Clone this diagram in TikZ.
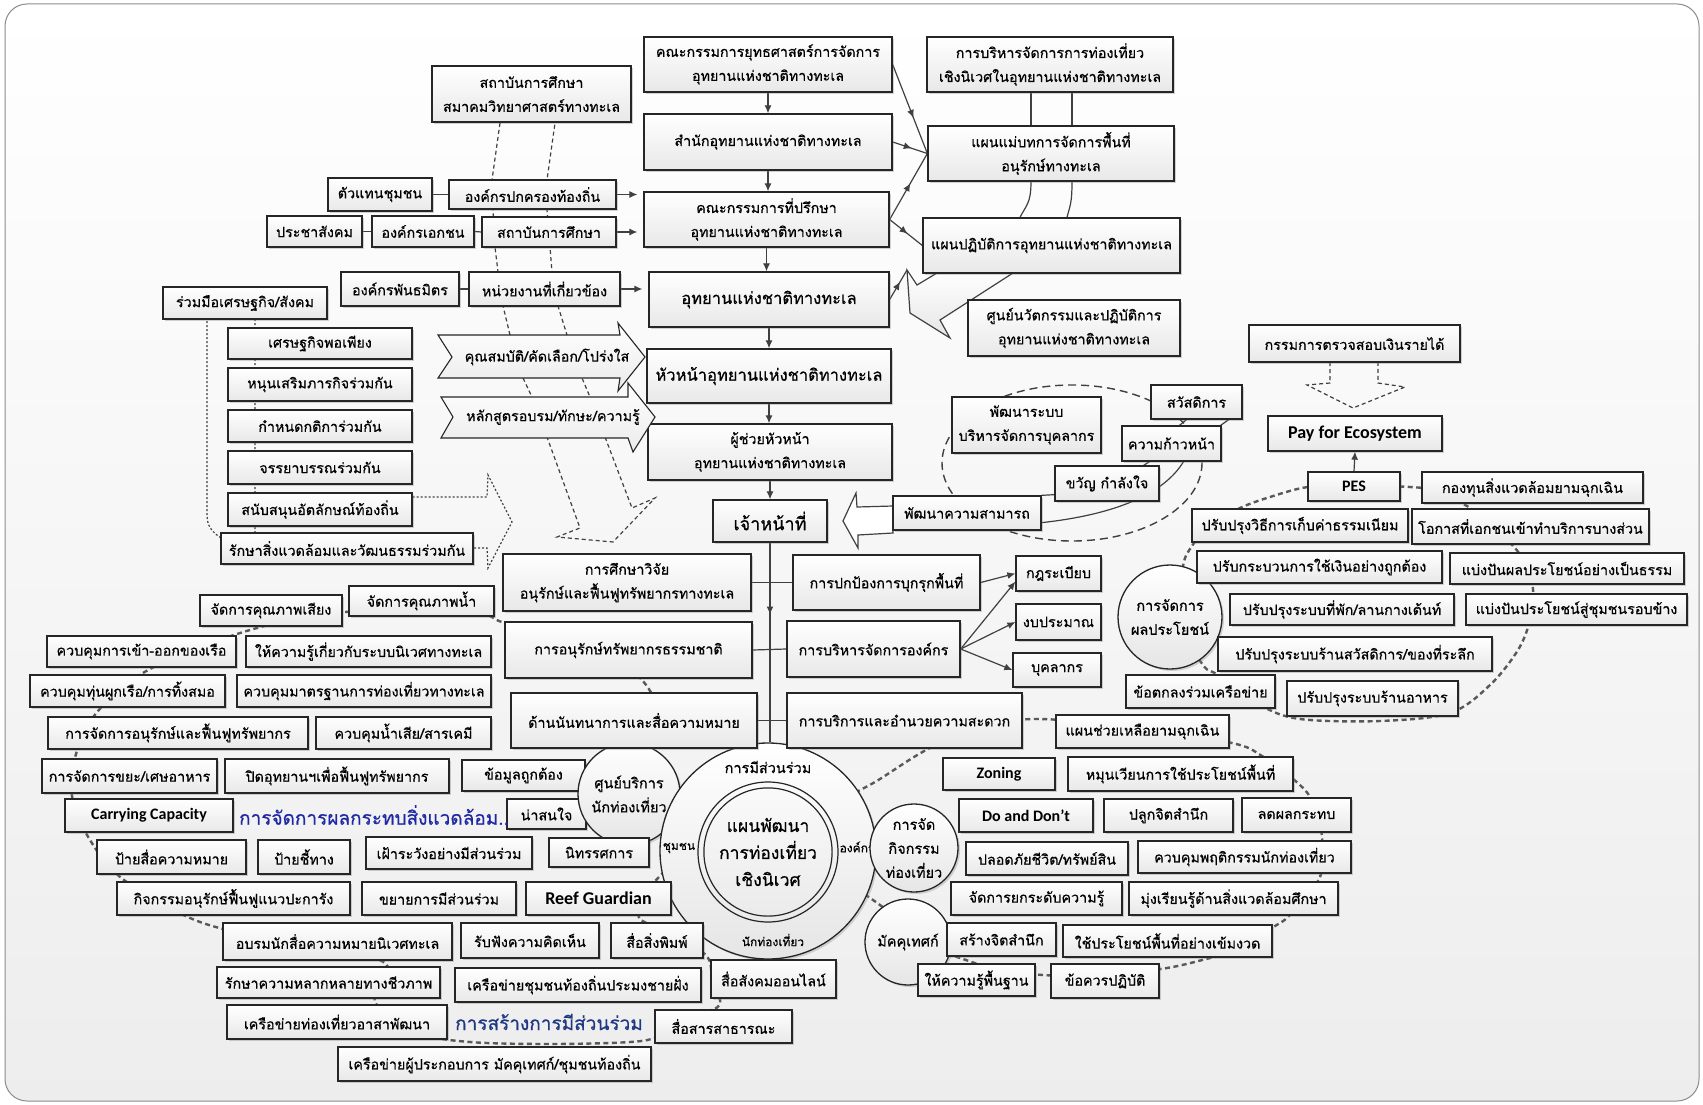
\documentclass[tikz,border=0pt]{standalone}
\usepackage{fontspec}
\setmainfont{Loma}[Script=Thai,FakeBold=0.6]
\newfontfamily\latf{Carlito}
\usetikzlibrary{arrows.meta,shadows,calc,decorations.markings}
\pgfdeclarelayer{back}\pgfdeclarelayer{bg}\pgfsetlayers{back,bg,main}
\newcommand\fsn{\fontsize{14.3}{24}\selectfont}
\newcommand\fsl{\fontsize{16.5}{20}\selectfont}
\newcommand\fsxl{\fontsize{18}{20}\selectfont}
\newcommand\fsc{\fontsize{14.5}{24}\selectfont}
\newcommand\fsring{\fontsize{12}{13}\selectfont}
\newcommand\fsringl{\fontsize{14.5}{15}\selectfont}
\newcommand\fsin{\fontsize{17.5}{27}\selectfont}
\newcommand\fsbl{\fontsize{19}{22}\selectfont}
\definecolor{bluea}{RGB}{30,40,165}
\definecolor{blueb}{RGB}{31,56,130}
\tikzset{
 box/.style={draw=black!85,line width=1.3pt,top color=white,bottom color=black!9,inner xsep=1pt,inner ysep=0pt,align=center,font=\fsn,
   drop shadow={shadow xshift=2pt,shadow yshift=-2pt,opacity=.35}},
 circ/.style={circle,draw=black!85,line width=1.3pt,top color=white,bottom color=black!10,inner sep=0pt,align=center,font=\fsc,
   drop shadow={shadow xshift=2pt,shadow yshift=-2pt,opacity=.3}},
 latb/.style={font=\latf\bfseries\fontsize{#1}{#1}\selectfont},
 conn/.style={draw=black!75,line width=1.2pt},
 arr/.style={conn,-{Latex[length=8pt,width=7pt]}},
 midarr/.style={postaction={decorate,decoration={markings,mark=at position #1 with {\arrow{Latex[length=8pt,width=7pt]}}}}},
 cloop/.style={draw=black!65,line width=2.4pt,dash pattern=on 5pt off 3.5pt},
 cdot/.style={draw=black!75,line width=1.2pt,dash pattern=on 2pt off 2pt},
 cdash/.style={draw=black!75,line width=1.2pt,dash pattern=on 4pt off 3pt},
 hrdash/.style={draw=black!75,line width=1.4pt,dash pattern=on 8pt off 5pt},
 chev/.style={draw=black!85,line width=1.1pt,top color=white,bottom color=black!8},
}
\newcommand\bx[7][]{%
 \pgfmathsetmacro\bxcx{(#3+#5)/2}%
 \pgfmathsetmacro\bxcy{(#4+#6)/2}%
 \pgfmathsetmacro\bxw{#5-#3}%
 \pgfmathsetmacro\bxh{#6-#4}%
 \node[box,minimum width=\bxw pt,minimum height=\bxh pt,#1] (#2) at (\bxcx,\bxcy) {#7};}
\newcommand\cir[6][]{%
 \pgfmathsetmacro\crd{2*#5}%
 \node[circ,minimum size=\crd pt,#1] (#2) at (#3,#4) {#6};}
\begin{document}
\begin{tikzpicture}[x=1pt,y=-1pt]
\useasboundingbox (0,0) rectangle (1703,1105);
\begin{pgfonlayer}{back}
 \fill[white] (0,0) rectangle (1703,1105);
 \shade[top color=white,bottom color=black!7,rounded corners=22pt] (5,4) rectangle (1699,1101);
 \draw[black!45,line width=1pt,rounded corners=22pt] (5,4) rectangle (1699,1101);
\end{pgfonlayer}

% ---- nodes under circles
\bx{n38}{462}{760}{585}{791}{ข้อมูลถูกต้อง}
\bx{n41}{507}{799}{586}{829}{น่าสนใจ}
\cir{c42}{629}{794}{51}{ศูนย์บริการ\\นักท่องเที่ยว}
\node[circ,minimum size=216pt] (cB) at (768,851) {};
\node[circle,draw=black!85,line width=1.2pt,minimum size=140pt] (cBo) at (768,852) {};
\node[circle,draw=black!85,line width=1.2pt,minimum size=124pt,align=center,font=\fsin] (cBi) at (768,852) {แผนพัฒนา\\การท่องเที่ยว\\เชิงนิเวศ};
\node[font=\fsringl] (rl1) at (768,767) {การมีส่วนร่วม};
\node[font=\fsring] (rl2) at (679,848) {ชุมชน};
\node[font=\fsring] (rl3) at (773,940) {นักท่องเที่ยว};
\node[font=\fsring] (rl4) at (857,847) {องค์กร};
\cir{c69}{914}{848}{44}{การจัด\\กิจกรรม\\ท่องเที่ยว}
\cir{c70}{908}{942}{43}{มัคคุเทศก์}
\cir{c98}{1170}{617}{52}{การจัดการ\\ผลประโยชน์}

% ---- central column
\bx{n1}{644}{37}{892}{92}{คณะกรรมการยุทธศาสตร์การจัดการ\\อุทยานแห่งชาติทางทะเล}
\bx{n2}{644}{114}{892}{170}{สำนักอุทยานแห่งชาติทางทะเล}
\bx{n3}{644}{192}{889}{247}{คณะกรรมการที่ปรึกษา\\อุทยานแห่งชาติทางทะเล}
\bx[font=\fsl]{n4}{649}{272}{889}{327}{อุทยานแห่งชาติทางทะเล}
\bx[font=\fsl]{n5}{647}{349}{891}{403}{หัวหน้าอุทยานแห่งชาติทางทะเล}
\bx{n6}{648}{424}{892}{480}{ผู้ช่วยหัวหน้า\\อุทยานแห่งชาติทางทะเล}
\bx[font=\fsxl]{n7}{713}{500}{827}{542}{เจ้าหน้าที่}
% ---- top right
\bx{n8}{927}{37}{1173}{92}{การบริหารจัดการการท่องเที่ยว\\เชิงนิเวศในอุทยานแห่งชาติทางทะเล}
\bx{n9}{928}{126}{1174}{181}{แผนแม่บทการจัดการพื้นที่\\อนุรักษ์ทางทะเล}
\bx{n10}{923}{218}{1180}{273}{แผนปฏิบัติการอุทยานแห่งชาติทางทะเล}
\bx{n11}{968}{300}{1180}{356}{ศูนย์นวัตกรรมและปฏิบัติการ\\อุทยานแห่งชาติทางทะเล}
% ---- top left
\bx{n12}{432}{66}{631}{122}{สถาบันการศึกษา\\สมาคมวิทยาศาสตร์ทางทะเล}
\bx{n13}{328}{178}{432}{211}{ตัวแทนชุมชน}
\bx{n14}{449}{180}{616}{209}{องค์กรปกครองท้องถิ่น}
\bx{n15}{267}{216}{362}{247}{ประชาสังคม}
\bx{n16}{372}{216}{474}{247}{องค์กรเอกชน}
\bx{n17}{482}{217}{616}{247}{สถาบันการศึกษา}
\bx{n18}{341}{272}{459}{306}{องค์กรพันธมิตร}
\bx{n19}{469}{272}{620}{306}{หน่วยงานที่เกี่ยวข้อง}
% ---- chevrons
\draw[chev] (438,335) -- (620,335) -- (618,323) -- (645,357) -- (618,391) -- (620,378) -- (438,378) -- (452,357) -- cycle;
\node[font=\fsn] (ch1) at (547,357) {คุณสมบัติ/คัดเลือก/โปร่งใส};
\draw[chev] (441,397) -- (628,397) -- (628,383) -- (655,417) -- (633,452) -- (628,438) -- (441,438) -- (453,417) -- cycle;
\node[font=\fsn] (ch2) at (553,417) {หลักสูตรอบรม/ทักษะ/ความรู้};
% ---- left column
\bx{n21}{163}{287}{327}{319}{ร่วมมือเศรษฐกิจ/สังคม}
\bx{n22}{228}{328}{412}{359}{เศรษฐกิจพอเพียง}
\bx{n23}{228}{368}{412}{401}{หนุนเสริมภารกิจร่วมกัน}
\bx{n24}{228}{410}{412}{442}{กำหนดกติการ่วมกัน}
\bx{n25}{228}{451}{412}{484}{จรรยาบรรณร่วมกัน}
\bx{n26}{228}{493}{412}{526}{สนับสนุนอัตลักษณ์ท้องถิ่น}
\bx{n27}{221}{533}{473}{564}{รักษาสิ่งแวดล้อมและวัฒนธรรมร่วมกัน}
% ---- left bottom cluster
\bx{n28}{349}{586}{494}{616}{จัดการคุณภาพน้ำ}
\bx{n29}{200}{595}{342}{626}{จัดการคุณภาพเสียง}
\bx{n30}{47}{636}{236}{667}{ควบคุมการเข้า-ออกของเรือ}
\bx{n31}{246}{636}{491}{667}{ให้ความรู้เกี่ยวกับระบบนิเวศทางทะเล}
\bx{n32}{30}{675}{225}{707}{ควบคุมทุ่นผูกเรือ/การทิ้งสมอ}
\bx{n33}{237}{675}{491}{707}{ควบคุมมาตรฐานการท่องเที่ยวทางทะเล}
\bx{n34}{48}{717}{308}{749}{การจัดการอนุรักษ์และฟื้นฟูทรัพยากร}
\bx{n35}{316}{717}{491}{749}{ควบคุมน้ำเสีย/สารเคมี}
\bx{n36}{42}{759}{217}{793}{การจัดการขยะ/เศษอาหาร}
\bx{n37}{225}{759}{449}{793}{ปิดอุทยานฯเพื่อฟื้นฟูทรัพยากร}
\bx[latb=16]{n39}{65}{799}{233}{832}{Carrying Capacity}
\node[font=\fsbl,text=bluea] (t40) at (374,815) {การจัดการผลกระทบสิ่งแวดล้อม..};
\bx{n43}{97}{840}{246}{874}{ป้ายสื่อความหมาย}
\bx{n44}{258}{840}{350}{874}{ป้ายชี้ทาง}
\bx{n45}{366}{837}{532}{869}{เฝ้าระวังอย่างมีส่วนร่วม}
\bx{n46}{549}{838}{649}{867}{นิทรรศการ}
\bx{n47}{117}{882}{350}{915}{กิจกรรมอนุรักษ์ฟื้นฟูแนวปะการัง}
\bx{n48}{362}{882}{516}{915}{ขยายการมีส่วนร่วม}
\bx[latb=18]{n49}{526}{882}{671}{915}{Reef Guardian}
\bx{n50}{223}{923}{452}{960}{อบรมนักสื่อความหมายนิเวศทะเล}
\bx{n51}{461}{923}{599}{958}{รับฟังความคิดเห็น}
\bx{n52}{611}{923}{703}{958}{สื่อสิ่งพิมพ์}
\bx{n53}{217}{967}{440}{998}{รักษาความหลากหลายทางชีวภาพ}
\bx{n54}{455}{968}{701}{1002}{เครือข่ายชุมชนท้องถิ่นประมงชายฝั่ง}
\bx{n55}{711}{960}{836}{998}{สื่อสังคมออนไลน์}
\bx{n56}{227}{1005}{447}{1039}{เครือข่ายท่องเที่ยวอาสาพัฒนา}
\node[font=\fsbl,text=blueb] (t57) at (549,1022) {การสร้างการมีส่วนร่วม};
\bx{n58}{655}{1010}{792}{1043}{สื่อสารสาธารณะ}
\bx{n59}{338}{1047}{651}{1081}{เครือข่ายผู้ประกอบการ มัคคุเทศก์/ชุมชนท้องถิ่น}
% ---- middle boxes
\bx{n60}{503}{554}{751}{611}{การศึกษาวิจัย\\อนุรักษ์และฟื้นฟูทรัพยากรทางทะเล}
\bx{n61}{505}{622}{752}{678}{การอนุรักษ์ทรัพยากรธรรมชาติ}
\bx{n62}{511}{693}{757}{748}{ด้านนันทนาการและสื่อความหมาย}
\bx{n63}{793}{555}{980}{610}{การปกป้องการบุกรุกพื้นที่}
\bx{n64}{787}{621}{960}{677}{การบริหารจัดการองค์กร}
\bx{n65}{787}{693}{1022}{748}{การบริการและอำนวยความสะดวก}
\bx{n66}{1016}{556}{1101}{591}{กฎระเบียบ}
\bx{n67}{1016}{604}{1101}{640}{งบประมาณ}
\bx{n68}{1013}{653}{1101}{687}{บุคลากร}
% ---- right bottom cluster
\bx{n71}{1056}{715}{1229}{748}{แผนช่วยเหลือยามฉุกเฉิน}
\bx[latb=16]{n72}{943}{758}{1055}{790}{Zoning}
\bx{n73}{1068}{757}{1293}{791}{หมุนเวียนการใช้ประโยชน์พื้นที่}
\bx[latb=16]{n74}{959}{799}{1093}{832}{Do and Don’t}
\bx{n75}{1104}{799}{1233}{832}{ปลูกจิตสำนึก}
\bx{n76}{1242}{798}{1351}{832}{ลดผลกระทบ}
\bx{n77}{966}{842}{1128}{875}{ปลอดภัยชีวิต/ทรัพย์สิน}
\bx{n78}{1138}{841}{1351}{873}{ควบคุมพฤติกรรมนักท่องเที่ยว}
\bx{n79}{951}{882}{1122}{915}{จัดการยกระดับความรู้}
\bx{n80}{1129}{882}{1338}{915}{มุ่งเรียนรู้ด้านสิ่งแวดล้อมศึกษา}
\bx{n81}{947}{923}{1056}{956}{สร้างจิตสำนึก}
\bx{n82}{1063}{925}{1272}{957}{ใช้ประโยชน์พื้นที่อย่างเข้มงวด}
\bx{n83}{918}{964}{1035}{996}{ให้ความรู้พื้นฐาน}
\bx{n84}{1051}{964}{1159}{998}{ข้อควรปฏิบัติ}
% ---- PES cluster
\bx{n85}{1249}{325}{1460}{362}{กรรมการตรวจสอบเงินรายได้}
\bx[latb=18]{n86}{1268}{416}{1442}{451}{Pay for Ecosystem}
\bx[latb=16]{n87}{1308}{472}{1400}{501}{PES}
\bx{n88}{1422}{472}{1643}{503}{กองทุนสิ่งแวดล้อมยามฉุกเฉิน}
\bx{n89}{1192}{509}{1408}{542}{ปรับปรุงวิธีการเก็บค่าธรรมเนียม}
\bx{n90}{1412}{509}{1649}{544}{โอกาสที่เอกชนเข้าทำบริการบางส่วน}
\bx{n91}{1197}{551}{1442}{583}{ปรับกระบวนการใช้เงินอย่างถูกต้อง}
\bx{n92}{1450}{553}{1684}{584}{แบ่งปันผลประโยชน์อย่างเป็นธรรม}
\bx{n93}{1230}{594}{1454}{625}{ปรับปรุงระบบที่พัก/ลานกางเต้นท์}
\bx{n94}{1466}{594}{1687}{625}{แบ่งปันประโยชน์สู่ชุมชนรอบข้าง}
\bx{n95}{1218}{637}{1492}{671}{ปรับปรุงระบบร้านสวัสดิการ/ของที่ระลึก}
\bx{n96}{1126}{675}{1275}{708}{ข้อตกลงร่วมเครือข่าย}
\bx{n97}{1287}{681}{1458}{716}{ปรับปรุงระบบร้านอาหาร}
% ---- HR cluster
\bx{n99}{952}{397}{1101}{453}{พัฒนาระบบ\\บริหารจัดการบุคลากร}
\bx{n100}{1151}{385}{1242}{419}{สวัสดิการ}
\bx{n101}{1122}{426}{1221}{461}{ความก้าวหน้า}
\bx{n102}{1055}{466}{1159}{501}{ขวัญ กำลังใจ}
\bx{n103}{893}{496}{1041}{530}{พัฒนาความสามารถ}

\coordinate (v1) at (1031,0);
\coordinate (v2) at (1072,0);
\coordinate (v3) at (1020,0);
\coordinate (v4) at (1067,0);
\coordinate (tipA) at (907,270);

% ================= connectors
\begin{pgfonlayer}{bg}
 \draw[cloop] plot[smooth,tension=0.55] coordinates {(655,700) (640,678) (600,650) (505,623) (475,614) (345,612) (250,630) (150,669) (98,711) (76,754) (72,796) (90,840) (124,880) (200,922) (300,945) (385,963) (375,1002) (420,1033) (470,1042) (550,1044) (630,1042) (660,1036) (700,1015) (720,1004) (712,980) (708,958) (680,935) (640,919) (645,895) (660,876) (680,860)};
 \draw[cloop] plot[smooth,tension=0.55] coordinates {(840,800) (875,782) (930,748) (990,726) (1040,719) (1140,728) (1232,743) (1262,756) (1300,785) (1314,805) (1322,837) (1320,877) (1290,915) (1272,928) (1240,950) (1210,958) (1167,968) (1100,976) (1043,975) (1000,970) (966,960) (930,945) (880,905) (850,885)};
 \draw[cloop] plot[smooth,tension=0.55] coordinates {(1350,487) (1308,487) (1270,497) (1240,508) (1210,525) (1192,546) (1183,566) (1178,620) (1203,665) (1218,675) (1260,705) (1300,719) (1380,721) (1450,713) (1490,685) (1518,650) (1530,620) (1533,589) (1525,565) (1515,548) (1490,525) (1467,506) (1430,490) (1410,487) (1380,486)};
 \draw[hrdash] (1072,463) ellipse [x radius=130,y radius=78];
 \draw[cdash] (500,123) -- (492,180) -- (493,210) -- (495,247) -- (498,272) -- (503,306) -- (510,335) -- (523,378) -- (532,397) -- (547,437) -- (580,528) -- (557,537) -- (613,542) -- (655,498) -- (632,508) -- (605,437) -- (590,397) -- (582,378) -- (567,335) -- (558,306) -- (552,272) -- (550,247) -- (547,210) -- (547,180) -- (555,123);
 \draw[cdot] (255,533) -- (255,287) -- (207,287) -- (207,515) .. controls (207,526) and (212,532) .. (221,538);
 \draw[cdot] (n26.east |- 0,497) -- (487,497) -- (488,475) -- (512,522) -- (488,568) -- (487,548) -- (n27.east |- 0,548);
 \draw[cdash] (1330,362) -- (1330,383) -- (1307,385) -- (1353,408) -- (1405,387) -- (1378,383) -- (1378,362);
 \draw[draw=black!75,line width=1.2pt,top color=white,bottom color=black!10] (1013,273) -- (940,320) -- (950,338) -- (910,313) -- (907,270) -- (917,285) -- (937,273) -- cycle;
 \draw[draw=black!75,line width=1.2pt,fill=white] (893,506) -- (857,507) -- (856,493) -- (843,521) -- (858,548) -- (858,535) -- (893,533) -- cycle;
 \draw[arr] (n1.south) -- (n1.south |- n2.north);
 \draw[arr] (n2.south) -- (n2.south |- n3.north);
 \draw[arr] (n3.south) -- (n3.south |- n4.north);
 \draw[arr] (n4.south) -- (n4.south |- n5.north);
 \draw[arr] (n5.south) -- (n5.south |- n6.north);
 \draw[arr] (n6.south) -- (n6.south |- n7.north);
 \draw[conn,midarr=0.36] (n7.south) -- (n7.south |- cB.north);
 \draw[conn] (n60.east) -- (n63.west);
 \draw[conn] (n61.east) -- (n64.west);
 \draw[conn] (n62.east) -- (n65.west);
 \draw[conn] (n8.south -| v1) -- (n9.north -| v1);
 \draw[conn] (n8.south -| v2) -- (n9.north -| v2);
 \draw[conn] (n9.south -| v1) .. controls +(0,22) and +(6,-12) .. (n10.north -| v3);
 \draw[conn] (n9.south -| v2) .. controls +(0,22) and +(3,-12) .. (n10.north -| v4);
 \draw[conn,midarr=0.6] (n1.east) -- (n9.west);
 \draw[conn,midarr=0.55] (n2.east) -- (n9.west);
 \draw[conn,midarr=0.55] (n3.east) -- (n9.west);
 \draw[conn,midarr=0.55] (n3.east) -- (n10.west);
 \draw[conn,midarr=0.6] (n4.east) -- (tipA);
 \draw[conn] (n13.east |- n14.east) -- (n14.west);
 \draw[conn] (n15.east) -- (n16.west);
 \draw[conn] (n16.east) -- (n17.west);
 \draw[conn] (n18.east) -- (n19.west);
 \draw[arr,shorten >=6pt] (n14.east) -- (n14.east -| n3.west);
 \draw[arr,shorten >=6pt] (n17.east) -- (n17.east -| n3.west);
 \draw[arr,shorten >=6pt] (n19.east) -- (n19.east -| n4.west);
 \draw[arr] (n63.east) -- (n66.west);
 \draw[arr] (n64.east) -- ($(n66.south west)+(0,-10)$);
 \draw[arr] (n64.east) -- (n67.west);
 \draw[arr] (n64.east) -- (n68.west);
 \draw[arr] (n87.north) -- (n86.south);
 \draw[conn] (n103.north east) -- ($(n102.south west)+(0,-7)$);
 \draw[conn] ($(n103.south east)+(0,-8)$) .. controls (1120,514) and (1165,492) .. ($(n101.south)+(12,0)$);
 \draw[conn] ($(n102.north east)+(-16,0)$) -- ($(n101.south)+(-22,0)$);
 \draw[conn] ($(n101.north)+(8,0)$) -- ($(n100.south)+(-10,0)$);
 \draw[conn] ($(n101.north east)+(-1,0)$) -- ($(n100.south east)+(-14,0)$);
\end{pgfonlayer}
\end{tikzpicture}
\end{document}
